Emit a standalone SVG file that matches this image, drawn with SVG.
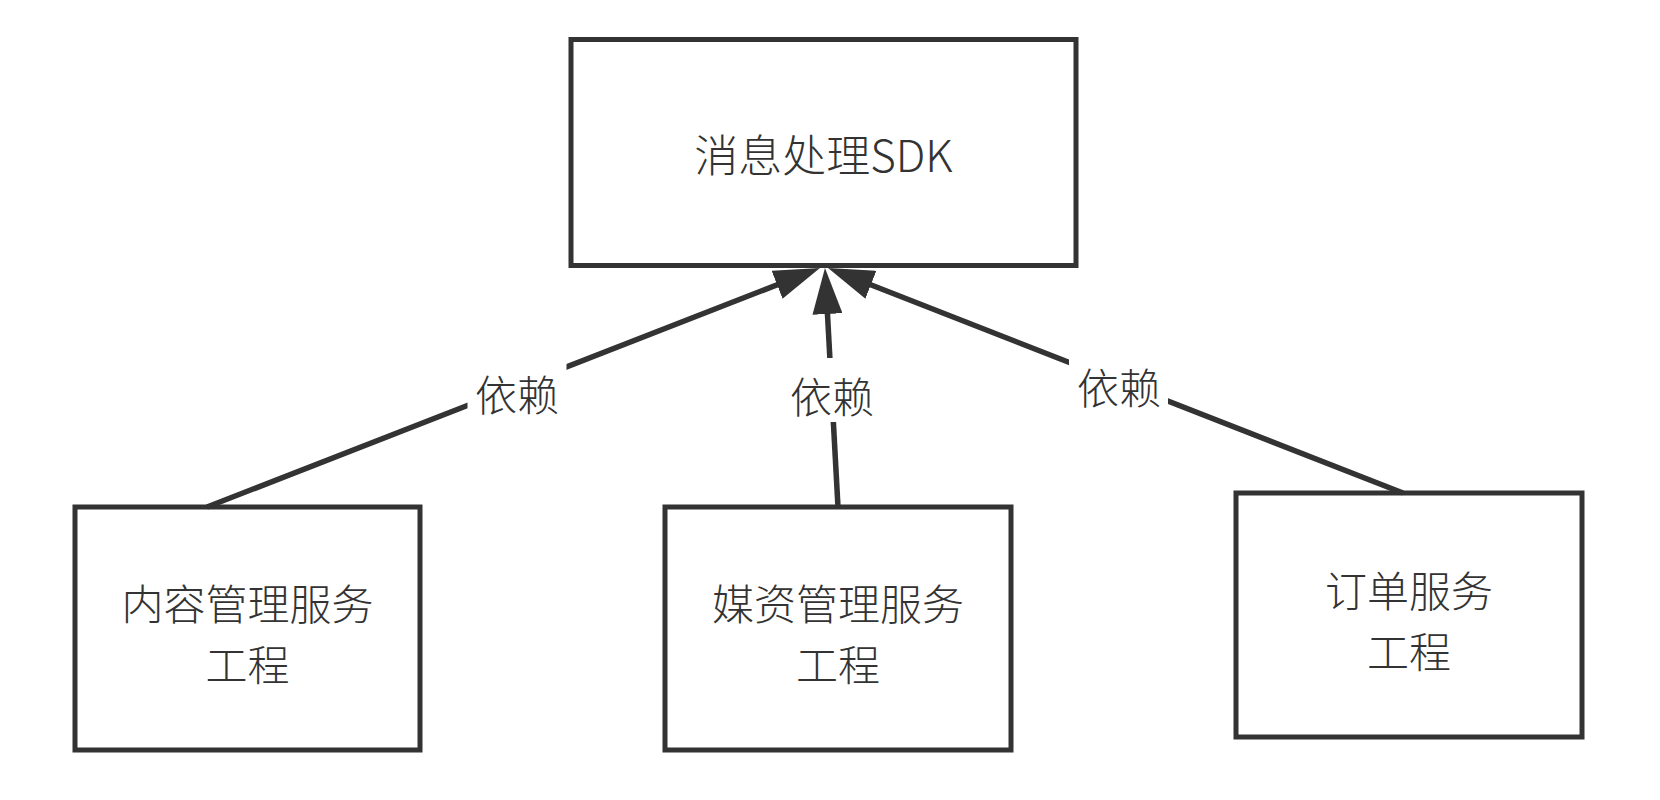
<svg xmlns="http://www.w3.org/2000/svg" width="1660" height="800" viewBox="0 0 1660 800">
  <style>
    .box { fill: #ffffff; stroke: #333333; stroke-width: 5; }
    .txt { font-family: "Noto Sans CJK SC", "Noto Sans", sans-serif; font-size: 44px; font-weight: 300; fill: #333333; text-anchor: middle; dominant-baseline: central; }
    .txt2 { font-family: "Noto Sans CJK SC", "Noto Sans", sans-serif; font-size: 42px; font-weight: 300; fill: #333333; text-anchor: middle; dominant-baseline: central; }
    .lbl { font-family: "Noto Sans CJK SC", "Noto Sans", sans-serif; font-size: 42px; font-weight: 300; fill: #333333; text-anchor: middle; dominant-baseline: central; }
    .edge { fill: none; stroke: #333333; stroke-width: 5.5; }
    .lblbg { fill: #ffffff; stroke: none; }
  </style>
  <defs>
    <marker id="arrow" viewBox="0 0 46 30" refX="16" refY="15" markerWidth="46" markerHeight="30" markerUnits="userSpaceOnUse" orient="auto">
      <path d="M0,0 L46,15 L0,30 Z" fill="#333333"/>
    </marker>
  </defs>
  <rect width="1660" height="800" fill="#ffffff"/>

  <g id="node-sdk">
    <rect class="box" x="571" y="39.5" width="505" height="226"/>
    <text class="txt" x="823.5" y="152.5">消息处理SDK</text>
  </g>
  <g id="node-content">
    <rect class="box" x="75" y="507" width="345" height="243"/>
    <text class="txt2" x="247.5" y="601">内容管理服务</text>
    <text class="txt2" x="247.5" y="662">工程</text>
  </g>
  <g id="node-media">
    <rect class="box" x="665" y="507" width="346" height="243"/>
    <text class="txt2" x="838" y="601">媒资管理服务</text>
    <text class="txt2" x="838" y="662">工程</text>
  </g>
  <g id="node-order">
    <rect class="box" x="1236" y="493" width="346" height="244"/>
    <text class="txt2" x="1409" y="588">订单服务</text>
    <text class="txt2" x="1409" y="649">工程</text>
  </g>

  <g id="connectors">
    <line class="edge" x1="207" y1="507" x2="792" y2="279" marker-end="url(#arrow)"/>
    <line class="edge" x1="838" y1="507" x2="826.6" y2="298" marker-end="url(#arrow)"/>
    <line class="edge" x1="1403" y1="493" x2="856" y2="279" marker-end="url(#arrow)"/>
    <rect class="lblbg" x="467.5" y="355.5" width="99" height="64"/>
    <text class="lbl" x="517" y="392">依赖</text>
    <rect class="lblbg" x="782" y="358" width="99" height="64"/>
    <text class="lbl" x="832" y="394">依赖</text>
    <rect class="lblbg" x="1069" y="349" width="99" height="64"/>
    <text class="lbl" x="1119" y="385">依赖</text>
  </g>
</svg>
